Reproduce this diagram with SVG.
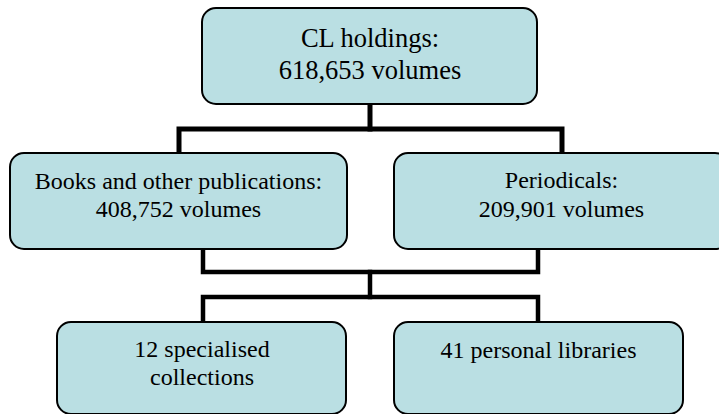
<svg xmlns="http://www.w3.org/2000/svg" width="719" height="414" viewBox="0 0 719 414">
<style>
.box{fill:#BADFE3;stroke:#000;stroke-width:2}
.t{fill:#000;text-anchor:middle}
.c{fill:none;stroke:#000;stroke-linecap:square}
</style>
<rect width="719" height="414" fill="#fff"/>
<g id="connectors">
<polyline class="c" stroke-width="5" points="370,104 370,129"/>
<polyline class="c" stroke-width="5" points="179,153 179,129 562,129 562,153"/>
<polyline class="c" stroke-width="4.5" points="203,249 203,272 538,272 538,249"/>
<polyline class="c" stroke-width="4.5" points="370,272 370,297"/>
<polyline class="c" stroke-width="4.5" points="203,322 203,297 538,297 538,322"/>
</g>
<g font-family="Liberation Serif, Tinos, Times New Roman, DejaVu Serif, serif">
<g id="n-holdings">
<rect class="box" x="202" y="8" width="335" height="96" rx="14"/>
<text class="t" font-size="26.5" x="370" y="47">CL holdings:</text>
<text class="t" font-size="26.5" x="370" y="79">618,653 volumes</text>
</g>
<g id="n-books">
<rect class="box" x="10" y="153" width="337" height="96" rx="14"/>
<text class="t" font-size="24" x="178.5" y="189">Books and other publications:</text>
<text class="t" font-size="24" x="178.5" y="217">408,752 volumes</text>
</g>
<g id="n-periodicals">
<rect class="box" x="394" y="153" width="335" height="96" rx="14"/>
<text class="t" font-size="24" x="561.5" y="188">Periodicals:</text>
<text class="t" font-size="24" x="561.5" y="217">209,901 volumes</text>
</g>
<g id="n-specialised">
<rect class="box" x="57" y="322" width="289" height="92" rx="14"/>
<text class="t" font-size="24" x="202" y="357">12 specialised</text>
<text class="t" font-size="24" x="202" y="385">collections</text>
</g>
<g id="n-personal">
<rect class="box" x="394" y="322" width="289" height="92" rx="14"/>
<text class="t" font-size="24" x="538.5" y="358">41 personal libraries</text>
</g>
</g>
</svg>
